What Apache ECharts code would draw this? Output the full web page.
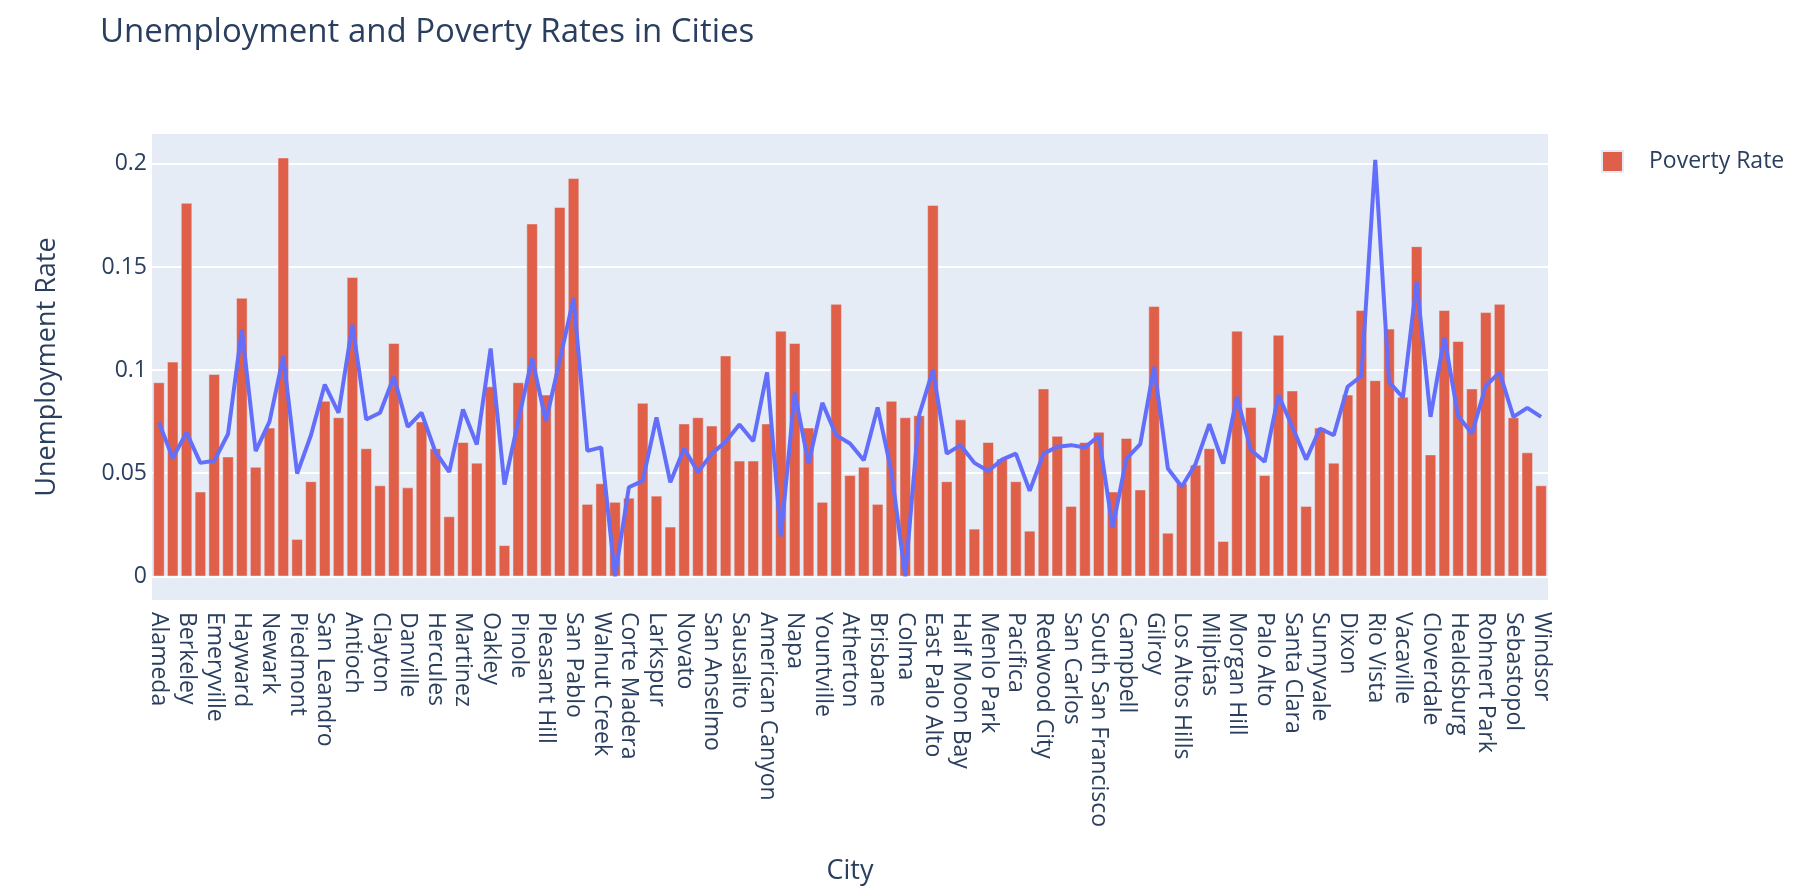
<!DOCTYPE html>
<html>
<head>
<meta charset="utf-8">
<script src="https://cdn.jsdelivr.net/npm/echarts@6/dist/echarts.min.js"></script>
<style>
html,body{margin:0;padding:0;background:#fff;}
#chart{width:1806px;height:894px;}
</style>
</head>
<body>
<div id="chart"></div>
<script>
const cities = [
  'Alameda','Albany','Berkeley','Dublin','Emeryville','Fremont','Hayward','Livermore','Newark','Oakland',
  'Piedmont','Pleasanton','San Leandro','Union City','Antioch','Brentwood','Clayton','Concord','Danville','El Cerrito',
  'Hercules','Lafayette','Martinez','Moraga','Oakley','Orinda','Pinole','Pittsburg','Pleasant Hill','Richmond',
  'San Pablo','San Ramon','Walnut Creek','Belvedere','Corte Madera','Fairfax','Larkspur','Mill Valley','Novato','Ross',
  'San Anselmo','San Rafael','Sausalito','Tiburon','American Canyon','Calistoga','Napa','St. Helena','Yountville','San Francisco',
  'Atherton','Belmont','Brisbane','Burlingame','Colma','Daly City','East Palo Alto','Foster City','Half Moon Bay','Hillsborough',
  'Menlo Park','Millbrae','Pacifica','Portola Valley','Redwood City','San Bruno','San Carlos','San Mateo','South San Francisco','Woodside',
  'Campbell','Cupertino','Gilroy','Los Altos','Los Altos Hills','Los Gatos','Milpitas','Monte Sereno','Morgan Hill','Mountain View',
  'Palo Alto','San Jose','Santa Clara','Saratoga','Sunnyvale','Benicia','Dixon','Fairfield','Rio Vista','Suisun City',
  'Vacaville','Vallejo','Cloverdale','Cotati','Healdsburg','Petaluma','Rohnert Park','Santa Rosa','Sebastopol','Sonoma',
  'Windsor'
];

const povertyRate = [
  0.094,0.104,0.181,0.041,0.098,0.058,0.135,0.053,0.072,0.203,
  0.018,0.046,0.085,0.077,0.145,0.062,0.044,0.113,0.043,0.075,
  0.062,0.029,0.065,0.055,0.092,0.015,0.094,0.171,0.088,0.179,
  0.193,0.035,0.045,0.036,0.038,0.084,0.039,0.024,0.074,0.077,
  0.073,0.107,0.056,0.056,0.074,0.119,0.113,0.072,0.036,0.132,
  0.049,0.053,0.035,0.085,0.077,0.078,0.180,0.046,0.076,0.023,
  0.065,0.057,0.046,0.022,0.091,0.068,0.034,0.065,0.070,0.041,
  0.067,0.042,0.131,0.021,0.045,0.054,0.062,0.017,0.119,0.082,
  0.049,0.117,0.090,0.034,0.072,0.055,0.088,0.129,0.095,0.120,
  0.087,0.160,0.059,0.129,0.114,0.091,0.128,0.132,0.077,0.060,
  0.044
];

const unemploymentRate = [
  0.0746,0.0574,0.0697,0.0550,0.0560,0.0690,0.1197,0.0607,0.0750,0.1068,
  0.0498,0.0684,0.0930,0.0793,0.1220,0.0760,0.0793,0.0968,0.0725,0.0793,
  0.0604,0.0506,0.0809,0.0639,0.1105,0.0445,0.0755,0.1057,0.0752,0.1047,
  0.1348,0.0608,0.0625,0.0000,0.0432,0.0463,0.0770,0.0456,0.0620,0.0505,
  0.0595,0.0652,0.0736,0.0655,0.0989,0.0194,0.0890,0.0547,0.0841,0.0684,
  0.0644,0.0563,0.0819,0.0506,0.0000,0.0782,0.1000,0.0595,0.0636,0.0550,
  0.0511,0.0566,0.0595,0.0414,0.0595,0.0628,0.0636,0.0625,0.0680,0.0236,
  0.0571,0.0641,0.1016,0.0523,0.0434,0.0545,0.0738,0.0547,0.0870,0.0612,
  0.0555,0.0879,0.0725,0.0566,0.0717,0.0684,0.0919,0.0971,0.2019,0.0943,
  0.0867,0.1429,0.0773,0.1159,0.0777,0.0693,0.0924,0.0989,0.0773,0.0817,
  0.0773
];

const yTicks = [0, 0.05, 0.1, 0.15, 0.2];

const FONT = 'Open Sans';
const TXT = '#2a3f5f';

const chart = echarts.init(document.getElementById('chart'), null, {renderer: 'canvas'});
chart.setOption({
  animation: false,
  backgroundColor: '#ffffff',
  title: {
    text: 'Unemployment and Poverty Rates in Cities',
    left: 100,
    top: 16,
    padding: 0,
    textStyle: {fontFamily: FONT, fontSize: 33, fontWeight: 'normal', color: TXT}
  },
  legend: {
    data: ['Poverty Rate'],
    left: 1601,
    top: 150,
    padding: 0,
    itemWidth: 21,
    itemHeight: 21,
    icon: 'rect',
    textStyle: {fontFamily: FONT, fontSize: 23, color: TXT, padding: [0, 0, 0, 21]}
  },
  grid: {
    left: 152,
    right: 258,
    top: 134,
    bottom: 294,
    show: true,
    backgroundColor: '#E5ECF6',
    borderWidth: 0,
    containLabel: false
  },
  xAxis: {
    type: 'category',
    data: cities,
    name: 'City',
    nameLocation: 'middle',
    nameGap: 258,
    nameTextStyle: {fontFamily: FONT, fontSize: 27, color: TXT},
    axisLine: {show: false},
    axisTick: {show: false},
    splitLine: {show: false},
    axisLabel: {
      interval: 1,
      rotate: -90,
      margin: 12,
      fontFamily: FONT,
      fontSize: 23,
      color: TXT
    }
  },
  yAxis: {
    type: 'value',
    min: -0.0115,
    max: 0.2145,
    name: 'Unemployment Rate',
    nameLocation: 'middle',
    nameRotate: 90,
    nameGap: 91,
    nameTextStyle: {fontFamily: FONT, fontSize: 27, color: TXT},
    axisLine: {show: false},
    axisTick: {show: false, customValues: yTicks},
    axisLabel: {
      customValues: yTicks,
      margin: 5,
      fontFamily: FONT,
      fontSize: 23,
      color: TXT,
      formatter: function (v) { return String(Math.round(v * 100) / 100); }
    },
    splitLine: {show: true, lineStyle: {color: '#ffffff', width: 2}}
  },
  series: [
    {
      name: 'Poverty Rate',
      type: 'bar',
      data: povertyRate,
      barCategoryGap: '20%',
      itemStyle: {color: '#E05F48', borderColor: '#E5ECF6', borderWidth: 0.5}
    },
    {
      name: 'Unemployment Rate',
      type: 'line',
      data: unemploymentRate,
      showSymbol: false,
      symbol: 'none',
      lineStyle: {color: '#636EFA', width: 4},
      itemStyle: {color: '#636EFA'},
      z: 5
    }
  ]
});
</script>
</body>
</html>
